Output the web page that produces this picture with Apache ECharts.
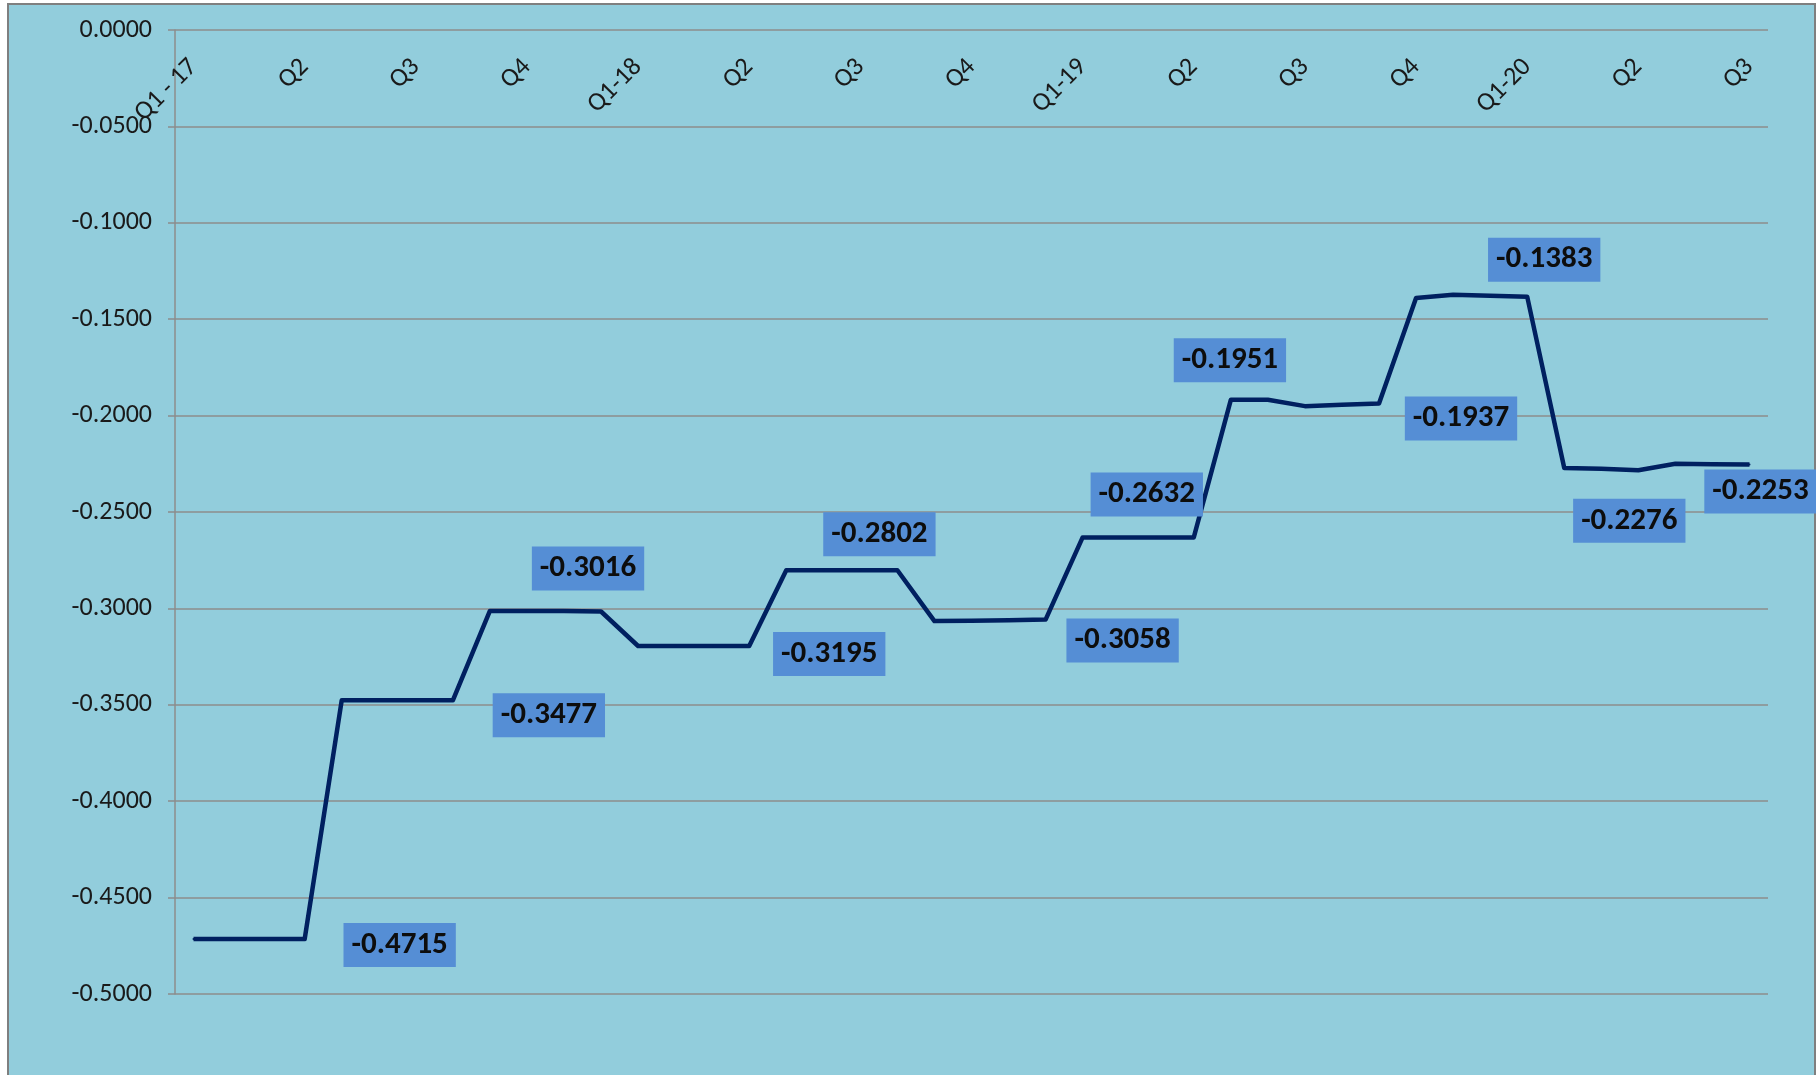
<!DOCTYPE html>
<html>
<head>
<meta charset="utf-8">
<title>Quarterly line</title>
<script src="https://cdn.jsdelivr.net/npm/echarts/dist/echarts.min.js"></script>
<style>
  html, body { margin: 0; padding: 0; background: #ffffff; overflow: hidden; }
  #frame {
    position: absolute; left: 7px; top: 3px; width: 1809px; height: 1100px;
    box-sizing: border-box; background: #92cddc;
    border: 2px solid #7f7f7f; border-bottom: none;
  }
  #main { position: absolute; left: 0; top: 0; width: 1816px; height: 1075px; }
</style>
</head>
<body>
<div id="frame"></div>
<div id="main"></div>
<script>
// one label every third point (monthly points, quarterly labels)
var quarterLabels = ['Q1 - 17', 'Q2', 'Q3', 'Q4', 'Q1-18', 'Q2', 'Q3', 'Q4',
  'Q1-19', 'Q2', 'Q3', 'Q4', 'Q1-20', 'Q2', 'Q3']

var values = [
  -0.4715, -0.4715, -0.4715, -0.4715,
  -0.3477, -0.3477, -0.3477, -0.3477,
  -0.3013, -0.3013, -0.3014, -0.3016,
  -0.3195, -0.3195, -0.3195, -0.3195,
  -0.2802, -0.2802, -0.2802, -0.2802,
  -0.3066, -0.3064, -0.3061, -0.3058,
  -0.2632, -0.2632, -0.2632, -0.2632,
  -0.1918, -0.1918, -0.1951, -0.1944, -0.1937,
  -0.1390, -0.1373, -0.1378, -0.1383,
  -0.2272, -0.2276, -0.2283, -0.2250, -0.2252, -0.2253
]

var yTicks = { min: -0.5, max: 0, step: 0.05 }

// points that carry a value box
var labelledPoints = [3, 7, 11, 15, 19, 23, 27, 30, 32, 36, 38, 42]
// where each box sits relative to its point (px)
var labelNudge = [[95, 6], [96, 15], [-13, -43], [80, 8], [-18, -36], [77, 21],
  [-47, -43], [-75, -46], [82, 15], [17, -37], [28, 52], [11, 27]]

var categories = []
for (var i = 0; i < values.length; i++) {
  categories.push(i % 3 === 0 ? quarterLabels[i / 3] : '')
}

var seriesData = values.map(function (v, i) {
  var k = labelledPoints.indexOf(i)
  if (k < 0) return v
  return {
    value: v,
    label: {
      show: true,
      position: 'inside',
      offset: labelNudge[k]
    }
  }
})

var font = 'Carlito, "Liberation Sans", Arial, sans-serif'

var chart = echarts.init(document.getElementById('main'), null, { renderer: 'canvas' })
chart.setOption({
  animation: false,
  backgroundColor: 'transparent',
  grid: { left: 175, right: 48, top: 30, bottom: 81, containLabel: false },
  xAxis: {
    type: 'category',
    position: 'top',
    data: categories,
    boundaryGap: true,
    axisLine: { show: false },
    axisTick: { show: false },
    axisLabel: {
      inside: true,
      interval: 2,
      rotate: 45,
      margin: 33,
      fontSize: 26,
      color: '#1a1a1a',
      fontFamily: font
    },
    splitLine: { show: false }
  },
  yAxis: {
    type: 'value',
    min: yTicks.min,
    max: yTicks.max,
    interval: yTicks.step,
    axisLine: { show: true, lineStyle: { color: '#8c8c8c', width: 1.5 } },
    axisTick: { show: true, length: 7, lineStyle: { color: '#8c8c8c', width: 1.5 } },
    axisLabel: {
      margin: 23,
      fontSize: 26,
      color: '#1a1a1a',
      fontFamily: font,
      formatter: function (v) { return v.toFixed(4) }
    },
    splitLine: { show: true, lineStyle: { color: '#8c8c8c', width: 1.5 } }
  },
  series: [{
    type: 'line',
    data: seriesData,
    symbol: 'circle',
    symbolSize: 2,
    showSymbol: true,
    showAllSymbol: true,
    itemStyle: { color: '#002060' },
    lineStyle: { color: '#002060', width: 4.5, join: 'round' },
    label: {
      show: false,
      backgroundColor: '#558ed5',
      padding: [7, 8, 6, 8],
      fontSize: 31,
      fontWeight: 'bold',
      color: '#0d0d0d',
      fontFamily: font,
      formatter: function (p) { return p.value.toFixed(4) }
    },
    emphasis: { disabled: true }
  }]
})
</script>
</body>
</html>
